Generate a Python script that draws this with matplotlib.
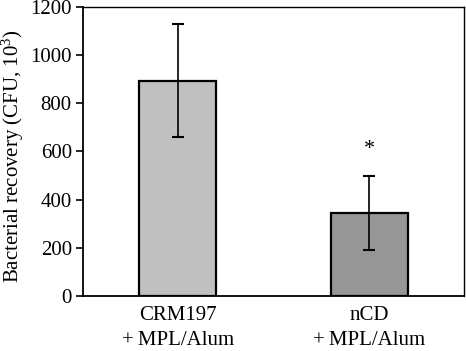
import matplotlib
matplotlib.use("Agg")
import matplotlib.pyplot as plt

categories = ["CRM197\n+\u2009MPL/Alum", "nCD\n+\u2009MPL/Alum"]
values = [893, 345]
errors = [235, 153]
colors = ["#c0c0c0", "#969696"]
yticks = [0, 200, 400, 600, 800, 1000, 1200]

plt.rcParams['font.family'] = ['Liberation Serif', 'DejaVu Serif']
plt.rcParams['mathtext.fontset'] = 'custom'
plt.rcParams['mathtext.rm'] = 'Liberation Serif'
plt.rcParams['mathtext.it'] = 'Liberation Serif:italic'
plt.rcParams['mathtext.bf'] = 'Liberation Serif:bold'
fig = plt.figure(figsize=(4.66, 3.51), dpi=100)
ax = fig.add_axes([0.178, 0.157, 0.818, 0.823])
x = [0, 1]
ax.bar(x, values, width=0.40, color=colors, edgecolor='black', linewidth=1.6, zorder=2)
ax.errorbar(x, values, yerr=errors, fmt='none', ecolor='black', elinewidth=1.2,
            capsize=4.5, capthick=1.5, zorder=3)
ax.text(1, 610, "*", ha='center', va='center', fontsize=16)
ax.set_xlim(-0.495, 1.495)
ax.set_ylim(0, 1200)
ax.set_yticks(yticks)
ax.set_xticks(x)
ax.set_xticklabels(categories, fontsize=15, linespacing=1.45)
ax.tick_params(axis='x', length=0, pad=7)
ax.tick_params(axis='y', direction='out', length=5, width=1.2, labelsize=15, pad=3)
for s in ax.spines.values():
    s.set_linewidth(1.0)
ax.spines['left'].set_linewidth(1.3)
ax.spines['bottom'].set_linewidth(1.3)
ax.set_ylabel("Bacterial recovery (CFU, 10$^{\\mathrm{3}}$)", fontsize=15)
ax.yaxis.set_label_coords(-0.150, 0.483)
fig.savefig("out.png", dpi=100)
